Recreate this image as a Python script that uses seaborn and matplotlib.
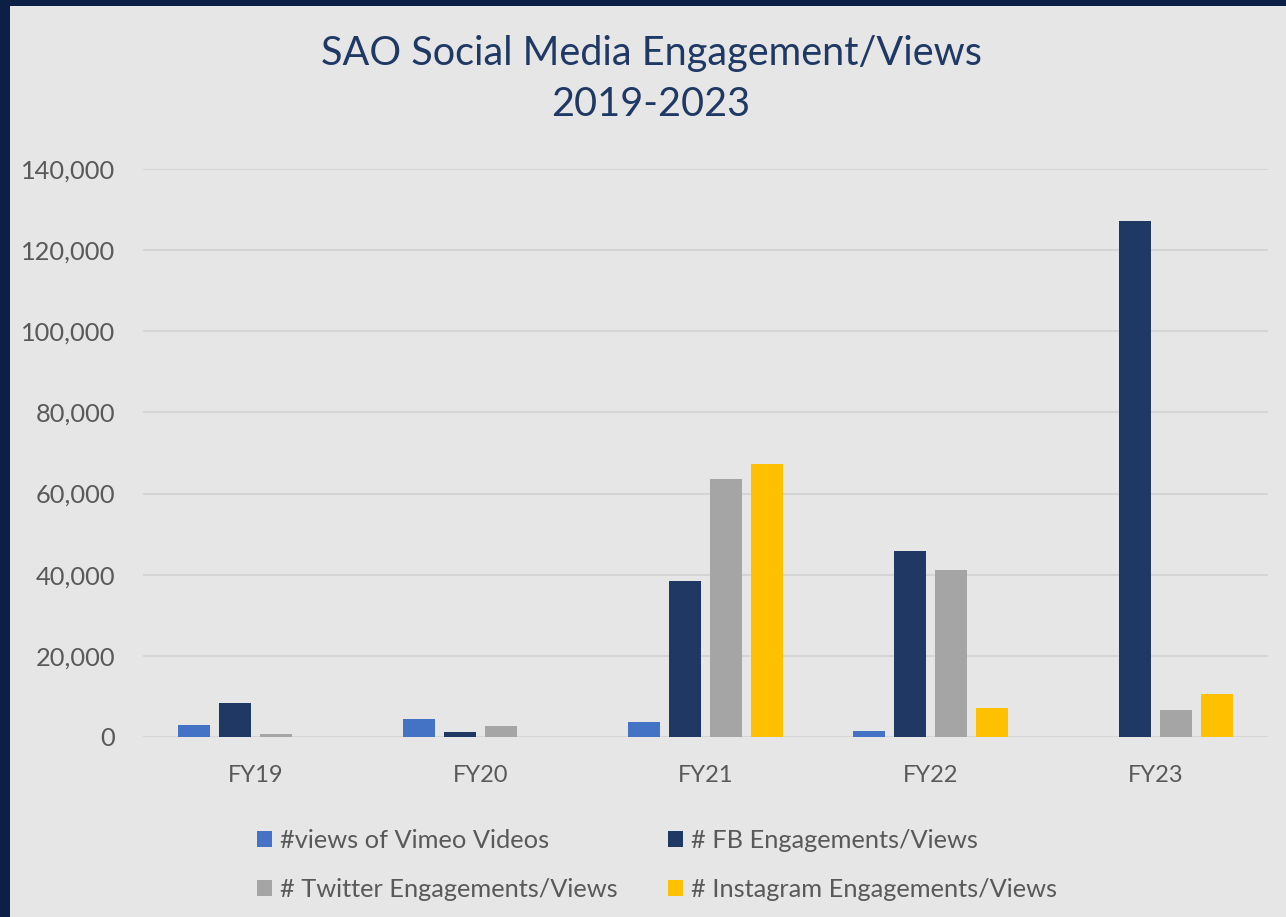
import matplotlib
matplotlib.use("Agg")
import matplotlib.pyplot as plt
import matplotlib.patches as mpatches
from matplotlib.ticker import FuncFormatter
import seaborn as sns
import pandas as pd

years = ["FY19", "FY20", "FY21", "FY22", "FY23"]
series = ["#views of Vimeo Videos", "# FB Engagements/Views",
          "# Twitter Engagements/Views", "# Instagram Engagements/Views"]
vimeo = [3000, 4400, 3800, 1400, 0]
fb = [8300, 1300, 38400, 45800, 127200]
twitter = [700, 2600, 63700, 41200, 6600]
instagram = [0, 0, 67200, 7100, 10600]
colors = ["#4472C4", "#1F3864", "#A5A5A5", "#FFC000"]

rows = []
for name, vals in zip(series, [vimeo, fb, twitter, instagram]):
    for y, v in zip(years, vals):
        rows.append({"year": y, "series": name, "value": v})
df = pd.DataFrame(rows)

sns.set_theme(style="white")
plt.rcParams["font.family"] = ["Lato", "DejaVu Sans"]

W, H = 1286, 917
bg = "#e6e6e6"
navy = "#0c1f45"
fig = plt.figure(figsize=(W / 100, H / 100), dpi=100)
fig.patch.set_facecolor(bg)
# navy frame on the left and top
fig.patches.append(mpatches.Rectangle((0, 0), 10 / W, 1, transform=fig.transFigure,
                                      facecolor=navy, edgecolor="none", zorder=-10))
fig.patches.append(mpatches.Rectangle((0, 1 - 6 / H), 1, 6 / H, transform=fig.transFigure,
                                      facecolor=navy, edgecolor="none", zorder=-10))

ax = fig.add_axes([143 / W, 1 - 737 / H, (1268 - 143) / W, (737 - 169) / H])
ax.set_facecolor(bg)

sns.barplot(data=df, x="year", y="value", hue="series", order=years,
            hue_order=series, palette=colors, width=0.724, gap=0.21,
            saturation=1, ax=ax, legend=False, zorder=3, linewidth=0)

ax.set_xlim(-0.5, 4.5)
ax.set_ylim(0, 140000)
ax.set_yticks(range(0, 140001, 20000))
ax.yaxis.set_major_formatter(FuncFormatter(lambda v, p: f"{int(v):,}"))
ax.grid(axis="y", color="#d4d4d4", linewidth=1.3, zorder=0)
ax.set_axisbelow(True)
for s in ax.spines.values():
    s.set_visible(False)
ax.tick_params(axis="both", length=0, colors="#595959")
ax.tick_params(axis="y", pad=20, labelsize=18.3)
ax.tick_params(axis="x", pad=20, labelsize=17)
ax.set_xlabel("")
ax.set_ylabel("")

fig.text(651 / W, 1 - 53 / H, "SAO Social Media Engagement/Views",
         ha="center", va="center", fontsize=28.5, color="#1F3864")
fig.text(651 / W, 1 - 105 / H, "2019-2023",
         ha="center", va="center", fontsize=28.5, color="#1F3864")

order = [0, 2, 1, 3]
handles = [mpatches.Patch(facecolor=colors[i], edgecolor="none") for i in order]
labels = [series[i] for i in order]
leg = fig.legend(handles, labels, ncol=2, loc="center",
                 bbox_to_anchor=(657 / W, 1 - 865 / H),
                 frameon=False, fontsize=18.3, handlelength=0.6, handleheight=0.6,
                 handletextpad=0.3, columnspacing=2.0, labelspacing=1.0)
for t in leg.get_texts():
    t.set_color("#595959")

fig.savefig("out.png", dpi=100, facecolor=fig.get_facecolor())
